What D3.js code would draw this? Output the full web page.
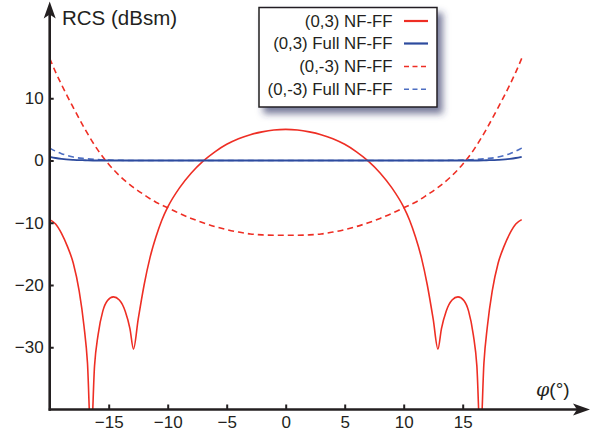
<!DOCTYPE html>
<html><head><meta charset="utf-8">
<script src="https://cdn.jsdelivr.net/npm/d3@7"></script>
<style>
html,body{margin:0;padding:0;background:#fff;}
svg{display:block;font-family:"Liberation Sans",Arial,sans-serif;}
</style></head>
<body>
<svg id="chart" width="597" height="432"></svg>
<script>
// ---- data ----
const phiSolidRed = [-20,-19.5,-19,-18.5,-18,-17.5,-17.1,-16.8,-16.5,-16.2,-15.9,-15.5,-15.1,-14.6,-14.1,-13.6,-13.2,-12.9,-12.5,-12,-11.5,-11,-10.5,-10,-9,-8,-7,-6,-5,-4,-3,-2,-1,0,
  1,2,3,4,5,6,7,8,9,10,10.5,11,11.5,12,12.5,12.9,13.2,13.6,14.1,14.6,15.1,15.5,15.9,16.2,16.5,16.8,17.1,17.5,18,18.5,19,19.5,20];
const rcsSolidRed = [-9.5,-10.2,-11.7,-13.8,-16.5,-21,-26.5,-32.5,-45,-33,-28,-24.2,-22.5,-21.9,-22.4,-24.2,-27,-30.3,-25.5,-20,-15.6,-12.3,-9.6,-7.5,-4.4,-2.0,-0.1,1.4,2.6,3.5,4.15,4.6,4.9,5.0,
  4.9,4.6,4.15,3.5,2.6,1.4,-0.1,-2.0,-4.4,-7.5,-9.6,-12.3,-15.6,-20,-25.5,-30.3,-27,-24.2,-22.4,-21.9,-22.5,-24.2,-28,-33,-45,-32.5,-26.5,-21,-16.5,-13.8,-11.7,-10.2,-9.5];

const phiDashedRed = [-20,-19.5,-19,-18.5,-18,-17,-16,-15,-14,-13,-12,-11,-10,-9,-8,-7,-6,-5,-4,-3,-2,-1,0,1,2,3,4,5,6,7,8,9,10,11,12,13,14,15,16,17,18,18.5,19,19.5,20];
const rcsDashedRed = [16.4,14.2,12.2,10.3,8.5,5.0,1.9,-0.6,-2.6,-4.2,-5.5,-6.7,-7.6,-8.5,-9.3,-10.0,-10.6,-11.1,-11.5,-11.8,-11.95,-12,-12,-12,-11.95,-11.8,-11.5,-11.1,-10.6,-10.0,-9.3,-8.5,-7.6,-6.7,-5.5,-4.2,-2.6,-0.6,1.9,5.0,8.5,10.3,12.2,14.2,16.4];

const phiSolidBlue = [-20,-19.5,-19,-18,-17,-16,0,16,17,18,19,19.5,20];
const rcsSolidBlue = [0.6,0.4,0.25,0.1,0.04,0,0,0,0.04,0.1,0.25,0.4,0.6];

const phiDashedBlue = [-20,-19.5,-19,-18.5,-18,-17,-16,-15,-14,-13,0,13,14,15,16,17,18,18.5,19,19.5,20];
const rcsDashedBlue = [2.0,1.5,1.1,0.8,0.55,0.3,0.15,0.07,0.03,0,0,0,0.03,0.07,0.15,0.3,0.55,0.8,1.1,1.5,2.0];

const xTicks = [-15,-10,-5,0,5,10,15];
const yTicks = [-30,-20,-10,0,10];
const legendLabels = ["(0,3) NF-FF","(0,3) Full NF-FF","(0,-3) NF-FF","(0,-3) Full NF-FF"];

// ---- drawing ----
const svg = d3.select("#chart");
const ink = "#231f20";
const red = "#ee2e24", blue = "#2d4b9e", blueLight = "#4d6ec2";

const x = d3.scaleLinear().domain([-20,20]).range([49.7,521.7]);
const y = d3.scaleLinear().domain([-40,20]).range([409.5,36.0]);

const defs = svg.append("defs");
defs.append("clipPath").attr("id","plotclip").append("rect")
  .attr("x",48).attr("y",0).attr("width",560).attr("height",409.5-0);
const f = defs.append("filter").attr("id","shadow").attr("x","-20%").attr("y","-20%").attr("width","150%").attr("height","160%");
f.append("feDropShadow").attr("dx",5).attr("dy",6).attr("stdDeviation",3.5)
  .attr("flood-color","#2f3466").attr("flood-opacity",0.65);

const series = [
  {phi:phiSolidRed, v:rcsSolidRed, color:red, w:1.6, dash:null},
  {phi:phiSolidBlue, v:rcsSolidBlue, color:blue, w:1.8, dash:null},
  {phi:phiDashedRed, v:rcsDashedRed, color:red, w:1.6, dash:"6,4"},
  {phi:phiDashedBlue, v:rcsDashedBlue, color:blueLight, w:1.6, dash:"6,4"}
];

const line = d3.line().curve(d3.curveMonotoneX);
const gPlot = svg.append("g").attr("clip-path","url(#plotclip)");
[2,0,3,1].forEach(i=>{
  const s = series[i];
  const pts = s.phi.map((p,k)=>[x(p), y(s.v[k])]);
  gPlot.append("path").attr("d", line(pts)).attr("fill","none")
    .attr("stroke", s.color).attr("stroke-width", s.w)
    .attr("stroke-dasharray", s.dash);
});

// axes
const fmt = d3.format("");
const gx = svg.append("g").attr("transform",`translate(0,${y(-40)})`)
  .call(d3.axisBottom(x).tickValues(xTicks).tickSizeInner(-5).tickSizeOuter(0).tickPadding(6).tickFormat(d=>fmt(d)));
const gy = svg.append("g").attr("transform",`translate(${x(-20)},0)`)
  .call(d3.axisLeft(y).tickValues(yTicks).tickSizeInner(-4).tickSizeOuter(0).tickPadding(6).tickFormat(d=>fmt(d)));
[gx,gy].forEach(g=>{
  g.select(".domain").remove();
  g.selectAll(".tick line").attr("stroke",ink).attr("stroke-width",2);
  g.selectAll(".tick text").attr("fill",ink).style("font-size","17px").style("font-family","'Liberation Sans',Arial,sans-serif");
});

const axY = y(-40), axX = x(-20);
svg.append("line").attr("x1",axX-1).attr("x2",582).attr("y1",axY).attr("y2",axY)
  .attr("stroke",ink).attr("stroke-width",2.6);
svg.append("line").attr("x1",axX).attr("x2",axX).attr("y1",axY+1.3).attr("y2",10)
  .attr("stroke",ink).attr("stroke-width",2.6);
// arrowheads
svg.append("path").attr("fill",ink)
  .attr("d",`M590,${axY} L573,${axY-6} L577,${axY} L573,${axY+6} Z`);
svg.append("path").attr("fill",ink)
  .attr("d",`M${axX},1.5 L${axX-6},18.5 L${axX},14.5 L${axX+6},18.5 Z`);

svg.append("text").attr("x",62).attr("y",25).attr("fill",ink)
  .style("font-size","20.5px").text("RCS (dBsm)");
const phiLab = svg.append("text").attr("x",536).attr("y",396).attr("fill",ink).style("font-size","19px");
phiLab.append("tspan").style("font-style","italic").style("font-family","'DejaVu Serif',serif").text("φ");
phiLab.append("tspan").text("(°)");

// legend
const lg = svg.append("g");
lg.append("rect").attr("x",259).attr("y",7.5).attr("width",178).attr("height",99.5)
  .attr("fill","#fff").attr("stroke",ink).attr("stroke-width",1.5).attr("filter","url(#shadow)");
const rowY = [21,43.5,66.5,89.3];
legendLabels.forEach((t,i)=>{
  const s = series[i];
  lg.append("text").attr("x",392.5).attr("y",rowY[i]).attr("dy","0.35em")
    .attr("text-anchor","end").attr("fill",ink).style("font-size","16.8px").text(t);
  lg.append("line").attr("x1",404).attr("x2",428).attr("y1",rowY[i]).attr("y2",rowY[i])
    .attr("stroke",s.color).attr("stroke-width",s.dash?1.4:2.2).attr("stroke-dasharray",s.dash?"5,3.5":null);
});
</script>
</body></html>
